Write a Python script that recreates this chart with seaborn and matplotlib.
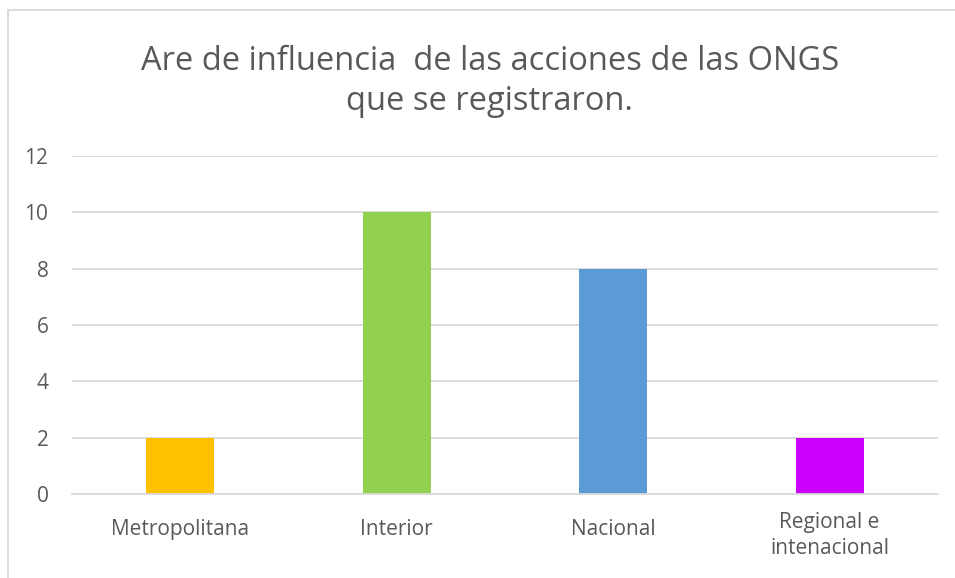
import matplotlib
matplotlib.use("Agg")
import matplotlib.pyplot as plt
import matplotlib.transforms as mtransforms
import pandas as pd
import seaborn as sns
from matplotlib.lines import Line2D

# -----------------------------
# Data
# -----------------------------
categories = ["Metropolitana", "Interior", "Nacional", "Regional e\nintenacional"]
values = [2, 10, 8, 2]
colors = ["#FFC000", "#92D050", "#5B9BD5", "#CC00FF"]
title = "Are de influencia  de las acciones de las ONGS\nque se registraron."

df = pd.DataFrame({"Area": categories, "Cantidad": values})

sns.set_theme(style="white")
plt.rcParams["font.family"] = ["Open Sans", "DejaVu Sans"]

fig = plt.figure(figsize=(9.55, 5.78), dpi=100)
ax = fig.add_axes([0.0754, 0.1453, 0.9066, 0.5847])

sns.barplot(data=df, x="Area", y="Cantidad", hue="Area", palette=colors,
            width=0.314, legend=False, ax=ax, saturation=1, linewidth=0)

ax.set_ylim(0, 12)
ax.set_xlim(-0.5, len(categories) - 0.5)
ax.set_yticks(range(0, 13, 2))
ax.yaxis.grid(True, color="#D9D9D9", linewidth=1.3)
ax.set_axisbelow(True)
for s in ["top", "right", "left"]:
    ax.spines[s].set_visible(False)
ax.spines["bottom"].set_color("#D9D9D9")
ax.spines["bottom"].set_linewidth(1.3)
ax.set_xlabel("")
ax.set_ylabel("")
ax.tick_params(axis="both", length=0, labelsize=15, labelcolor="#595959")
ax.tick_params(axis="x", pad=18)
ax.tick_params(axis="y", pad=17)

# multi-line label sits a bit higher, as in the original
shift = mtransforms.ScaledTranslation(0, 7 / 100, fig.dpi_scale_trans)
for lbl in ax.get_xticklabels():
    lbl.set_linespacing(1.3)
    if "\n" in lbl.get_text():
        lbl.set_transform(lbl.get_transform() + shift)

fig.text(0.513, 0.859, title, ha="center", va="center", fontsize=23.5,
         color="#595959", linespacing=1.25)

# chart frame (top and left edges visible)
fig.add_artist(Line2D([8 / 955, 8 / 955], [0, 1 - 10 / 578], transform=fig.transFigure,
                      color="#D9D9D9", linewidth=1.3))
fig.add_artist(Line2D([8 / 955, 1], [1 - 10 / 578, 1 - 10 / 578], transform=fig.transFigure,
                      color="#D9D9D9", linewidth=1.3))

fig.savefig("out.png", dpi=100)
